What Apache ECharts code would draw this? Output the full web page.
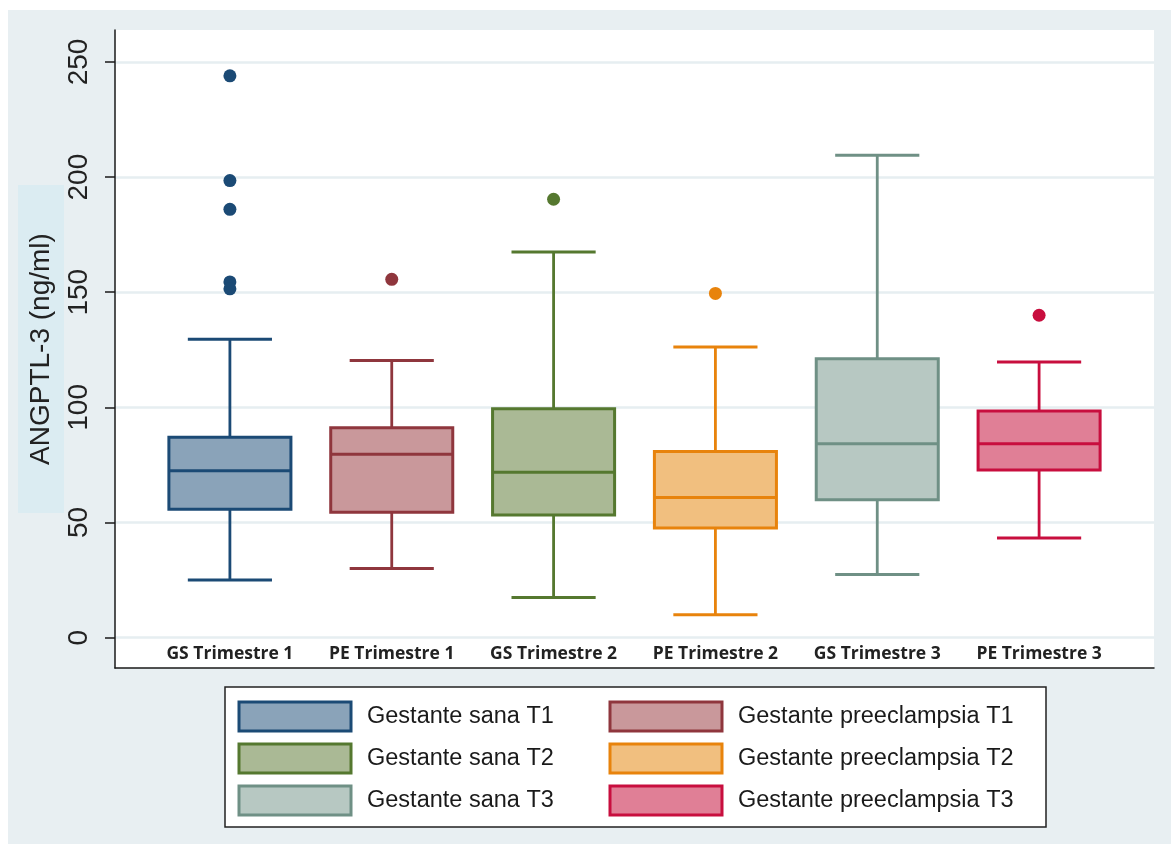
<!DOCTYPE html>
<html>
<head>
<meta charset="utf-8">
<script src="https://cdn.jsdelivr.net/npm/echarts@6/dist/echarts.min.js"></script>
<style>
  html, body { margin: 0; padding: 0; background: #ffffff; }
  #wrap { position: relative; width: 1171px; height: 844px; background: #ffffff; overflow: hidden; }
  #chart { position: absolute; left: 8px; top: 10px; width: 1163px; height: 834px; }
</style>
</head>
<body>
<div id="wrap"><div id="chart"></div></div>
<script>
// Groups along the x axis
const categories = ['GS Trimestre 1', 'PE Trimestre 1', 'GS Trimestre 2', 'PE Trimestre 2', 'GS Trimestre 3', 'PE Trimestre 3'];
const groupNames = ['Gestante sana T1', 'Gestante preeclampsia T1', 'Gestante sana T2', 'Gestante preeclampsia T2', 'Gestante sana T3', 'Gestante preeclampsia T3'];

// Box summaries: [lower whisker, Q1, median, Q3, upper whisker] in ng/ml
const gsT1 = [25, 55.7, 72.5, 87, 129.6];
const peT1 = [30, 54.4, 79.6, 91.2, 120.4];
const gsT2 = [17.4, 53.3, 71.8, 99.4, 167.5];
const peT2 = [9.9, 47.6, 60.8, 80.8, 126.2];
const gsT3 = [27.4, 59.9, 84.2, 121.1, 209.5];
const peT3 = [43.3, 72.8, 84.2, 98.4, 119.7];

// Outside values
const gsT1Out = [244, 198.5, 186, 154.5, 151.5];
const peT1Out = [155.6];
const gsT2Out = [190.4];
const peT2Out = [149.5];
const gsT3Out = [];
const peT3Out = [140];

// Y axis ticks
const yTicks = [0, 50, 100, 150, 200, 250];

const summaries = [gsT1, peT1, gsT2, peT2, gsT3, peT3];
const outliers = [gsT1Out, peT1Out, gsT2Out, peT2Out, gsT3Out, peT3Out];

// Line and fill colours per group
const strokeColors = ['#1b4a75', '#8f363d', '#55782f', '#e8830c', '#6f9085', '#c80e3e'];
const fillColors = ['#8aa3b9', '#c9989b', '#aab995', '#f1bf7f', '#b7c8c2', '#e07f96'];

function boxRenderer(stroke, fill) {
  return function (params, api) {
    const x = api.value(0);
    const band = api.size([1, 0])[0];
    const half = band * 0.377;
    const cap = band * 0.26;
    const pMin = api.coord([x, api.value(1)]);
    const pQ1 = api.coord([x, api.value(2)]);
    const pMed = api.coord([x, api.value(3)]);
    const pQ3 = api.coord([x, api.value(4)]);
    const pMax = api.coord([x, api.value(5)]);
    const cx = pMin[0];
    return {
      type: 'group',
      children: [
        { type: 'line', shape: { x1: cx, y1: pMax[1], x2: cx, y2: pQ3[1] }, style: { stroke: stroke, lineWidth: 2.8 } },
        { type: 'line', shape: { x1: cx, y1: pQ1[1], x2: cx, y2: pMin[1] }, style: { stroke: stroke, lineWidth: 2.8 } },
        { type: 'line', shape: { x1: cx - cap, y1: pMax[1], x2: cx + cap, y2: pMax[1] }, style: { stroke: stroke, lineWidth: 3 } },
        { type: 'line', shape: { x1: cx - cap, y1: pMin[1], x2: cx + cap, y2: pMin[1] }, style: { stroke: stroke, lineWidth: 3 } },
        { type: 'rect', shape: { x: cx - half, y: pQ3[1], width: 2 * half, height: pQ1[1] - pQ3[1] }, style: { fill: fill, stroke: stroke, lineWidth: 3 } },
        { type: 'line', shape: { x1: cx - half, y1: pMed[1], x2: cx + half, y2: pMed[1] }, style: { stroke: stroke, lineWidth: 3 } }
      ]
    };
  };
}

const series = [];
summaries.forEach(function (s, i) {
  series.push({
    type: 'custom',
    name: groupNames[i],
    renderItem: boxRenderer(strokeColors[i], fillColors[i]),
    encode: { x: 0, y: [1, 2, 3, 4, 5] },
    data: [[i].concat(s)],
    z: 3
  });
  series.push({
    type: 'scatter',
    name: groupNames[i],
    symbol: 'circle',
    symbolSize: 13,
    itemStyle: { color: strokeColors[i], opacity: 1 },
    data: outliers[i].map(function (v) { return [i, v]; }),
    z: 4
  });
});

function legendItems(idx) {
  return idx.map(function (i) {
    return {
      name: groupNames[i],
      icon: 'rect',
      itemStyle: { color: fillColors[i], borderColor: strokeColors[i], borderWidth: 3 }
    };
  });
}

const legendBase = {
  orient: 'vertical',
  top: 690.5,
  padding: 0,
  itemWidth: 112,
  itemHeight: 29,
  itemGap: 10,
  selectedMode: false,
  z: 10,
  textStyle: { fontFamily: 'Liberation Sans, Arial, sans-serif', fontSize: 23.5, color: '#1a1a1a', padding: [0, 0, 0, 11] }
};

const chart = echarts.init(document.getElementById('chart'));
chart.setOption({
  backgroundColor: '#e8eff2',
  animation: false,
  textStyle: { fontFamily: 'Liberation Sans, Arial, sans-serif' },
  graphic: [{
    type: 'rect',
    z: 1,
    shape: { x: 217, y: 677, width: 821, height: 140 },
    style: { fill: '#ffffff', stroke: '#222222', lineWidth: 1.5 }
  }],
  legend: [
    Object.assign({}, legendBase, { left: 229.5, data: legendItems([0, 2, 4]) }),
    Object.assign({}, legendBase, { left: 600.5, data: legendItems([1, 3, 5]) })
  ],
  grid: {
    left: 107, right: 17, top: 20, bottom: 176,
    outerBoundsMode: 'none',
    containLabel: false,
    show: true, backgroundColor: '#ffffff', borderWidth: 0
  },
  xAxis: {
    type: 'value',
    min: -0.71,
    max: 5.71,
    axisLine: { show: true, onZero: false, lineStyle: { color: '#1a1a1a', width: 1.5 } },
    axisTick: { show: false },
    splitLine: { show: false },
    axisLabel: {
      customValues: [0, 1, 2, 3, 4, 5],
      formatter: function (v) { return categories[Math.round(v)]; },
      inside: true,
      margin: 5,
      fontFamily: 'Open Sans, sans-serif',
      fontWeight: 'bold',
      fontSize: 17.5,
      color: '#222222'
    }
  },
  yAxis: {
    type: 'value',
    min: -13.2,
    max: 263.9,
    name: 'ANGPTL-3 (ng/ml)',
    nameLocation: 'middle',
    nameRotate: 90,
    nameGap: 51,
    nameMoveOverlap: false,
    nameTextStyle: {
      fontFamily: 'Liberation Sans, Arial, sans-serif',
      fontSize: 28,
      lineHeight: 34,
      color: '#222222',
      backgroundColor: '#dbecf2',
      padding: [6, 48]
    },
    axisLine: { show: true, onZero: false, lineStyle: { color: '#1a1a1a', width: 1.5 } },
    axisTick: { show: true, customValues: yTicks, length: 10, lineStyle: { color: '#1a1a1a', width: 1.5 } },
    axisLabel: {
      customValues: yTicks,
      rotate: 90,
      margin: 22,
      fontSize: 28,
      color: '#222222'
    },
    splitLine: { show: true, lineStyle: { color: '#e6eef1', width: 2.5 } }
  },
  series: series
});
</script>
</body>
</html>
